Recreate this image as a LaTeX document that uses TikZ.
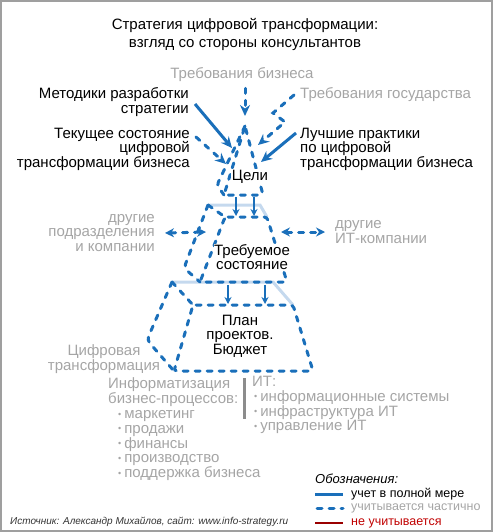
\documentclass[tikz,border=0pt]{standalone}
\usepackage{fontspec}
\setmainfont{Liberation Sans}
\usetikzlibrary{arrows.meta,positioning}

\definecolor{stratblue}{RGB}{26,111,186}
\definecolor{backblue}{RGB}{197,217,238}
\definecolor{softgrey}{RGB}{165,165,165}
\definecolor{bargrey}{RGB}{140,140,140}
\definecolor{notred}{RGB}{192,0,0}

\newcommand{\tier}[7]{% front tl, front tr, front br, front bl, back tl, back tr, back bend
\draw[backline] (#5) -- (#6) -- (#2);
\draw[part,rounded corners=3pt] (#1) -- (#2) -- (#3) -- (#4) -- cycle;
\draw[part] (#5) -- (#1);
\draw[part,rounded corners=4pt] (#5) -- (#7) -- (#4);
}
\newcommand{\bul}{{\fontsize{9}{9}\selectfont\raisebox{1.5pt}{•}}\hspace{3pt}}

\tikzset{
full/.style={stratblue,line width=3pt},
part/.style={stratblue,line width=3pt,line cap=round,dash pattern=on 5pt off 7pt},
backline/.style={backblue,line width=3pt},
arr/.style={-{Stealth[length=11pt,width=10pt]}},
darr/.style={{Stealth[length=9pt,width=9pt]}-{Stealth[length=9pt,width=9pt]}},
lbl/.style={font=\fontsize{15}{14.5}\selectfont,inner sep=0pt},
greylbl/.style={lbl,text=softgrey},
itemlist/.style={font=\fontsize{15}{14.8}\selectfont,inner sep=0pt,text=softgrey,align=left,anchor=west},
legtxt/.style={font=\fontsize{12.5}{13}\selectfont,inner sep=0pt,anchor=west},
}

\begin{document}
\begin{tikzpicture}[x=1pt,y=-1pt]
\useasboundingbox (0,0) rectangle (493,532);
\draw[gray!75,line width=2pt] (1,1) rectangle (492,531);

%%%%%
\node[font=\fontsize{15}{18}\selectfont,align=center] (title) at (245,34) {Стратегия цифровой трансформации:\\взгляд со стороны консультантов};

%%%%%
\node[greylbl] (trbiz) at (242,75) {Требования бизнеса};
\node[lbl,align=right,anchor=east] (metod) at (189,102) {Методики разработки\\стратегии};
\node[greylbl,anchor=west] (trgos) at (300,95) {Требования государства};
\node[lbl,align=right,anchor=east] (tekush) at (190,149) {Текущее состояние\\цифровой\\трансформации бизнеса};
\node[lbl,align=left,anchor=west] (luch) at (300,149) {Лучшие практики\\по цифровой\\трансформации бизнеса};

\coordinate (cin) at (245,116);
\coordinate (cmet) at (232,148);
\coordinate (cgos) at (258,145);
\coordinate (ctek) at (226,164);
\coordinate (cluch) at (261,162);

%%%%%
\coordinate (capex) at (245,126);
\coordinate (cbl) at (224,195);
\coordinate (cbr) at (263,195);
\coordinate (cbend) at (217,185);

\coordinate (tfl) at (225,217);
\coordinate (tfr) at (267,217);
\coordinate (tbr) at (287,282);
\coordinate (tbl) at (200,282);
\coordinate (tkl) at (208,205);
\coordinate (tkr) at (260,205);
\coordinate (tbend) at (184,268);

\coordinate (pfl) at (193,305);
\coordinate (pfr) at (293,305);
\coordinate (pbr) at (313,371);
\coordinate (pbl) at (174,371);
\coordinate (pkl) at (172,282);
\coordinate (pkr) at (273,282);
\coordinate (pbend) at (147,340);

\tier{pfl}{pfr}{pbr}{pbl}{pkl}{pkr}{pbend}
\tier{tfl}{tfr}{tbr}{tbl}{tkl}{tkr}{tbend}
\draw[part,rounded corners=3pt] (capex) -- (cbr) -- (cbl) -- cycle;
\draw[part,rounded corners=3pt] (capex) -- (cbend) -- (cbl);

\foreach \x in {236,254} \draw[full,line width=2.5pt,-{Stealth[length=7pt,width=7pt]}] (\x,197) -- (\x,216);
\foreach \x in {228,265} \draw[full,line width=2.5pt,-{Stealth[length=7pt,width=7pt]}] (\x,285) -- (\x,304);

%%%%%
\draw[part,arr] ([yshift=-6pt]trbiz.south -| cin) -- (cin);
\draw[full,arr] ([shift={(6,2)}]metod.east) -- (cmet);
\draw[part,arr] ([xshift=-6pt]trgos.west) -- (273,113) -- (285,122) -- (cgos);
\draw[part,arr] ([shift={(6,-12)}]tekush.east) -- (ctek);
\draw[full,arr] ([shift={(-4,-16)}]luch.west) -- (cluch);

%%%%%
\node[lbl,fill=white,inner sep=1pt] (celi) at (250,177) {Цели};
\node[lbl,fill=white,align=center] (treb) at (252,257) {Требуемое\\состояние};
\node[lbl,fill=white,align=center] (plan) at (240,336) {План\\проектов.\\Бюджет};

\node[greylbl,align=right,anchor=east] (drugie) at (155,233) {другие\\подразделения\\и компании};
\draw[part,darr] ([xshift=10pt]drugie.east) -- (206,232);
\node[greylbl,align=left,anchor=west] (itcomp) at (335,232) {другие\\ИТ-компании};
\draw[part,darr] (281,232) -- ([xshift=-10pt]itcomp.west);
\node[greylbl,align=center] (cifr) at (104,359) {Цифровая\\трансформация};

%%%%%
\node[itemlist] (bizlist) at (108,429.5) {Информатизация\\бизнес-процессов:\\\hspace*{10pt}\bul маркетинг\\\hspace*{10pt}\bul продажи\\\hspace*{10pt}\bul финансы\\\hspace*{10pt}\bul производство\\\hspace*{10pt}\bul поддержка бизнеса};
\draw[bargrey,line width=3pt] (244,378) -- (244,419);
\node[itemlist] (itlist) at (252,405) {ИТ:\\\hspace*{2pt}\bul информационные системы\\\hspace*{2pt}\bul инфраструктура ИТ\\\hspace*{2pt}\bul управление ИТ};

%%%%%
\node[legtxt,font=\itshape\fontsize{13}{13}\selectfont] (legtitle) at (315,479) {Обозначения:};
\node[legtxt] (legfull) at (351,494) {учет в полной мере};
\node[legtxt,text=softgrey] (legpart) at (351,508) {учитывается частично};
\node[legtxt,text=notred] (legnone) at (351,523) {не учитывается};
\draw[full] ([xshift=-36pt]legfull.west) -- ([xshift=-8pt]legfull.west);
\draw[part] ([xshift=-34pt]legpart.west) -- ([xshift=-8pt]legpart.west);
\draw[notred!80!black,line width=1.2pt] ([xshift=-36pt]legnone.west) -- ([xshift=-8pt]legnone.west);

\node[legtxt,font=\itshape\fontsize{10}{11}\selectfont,text=black!80] (source) at (10,522) {Источник: Александр Михайлов, сайт: www.info-strategy.ru};

\end{tikzpicture}
\end{document}
